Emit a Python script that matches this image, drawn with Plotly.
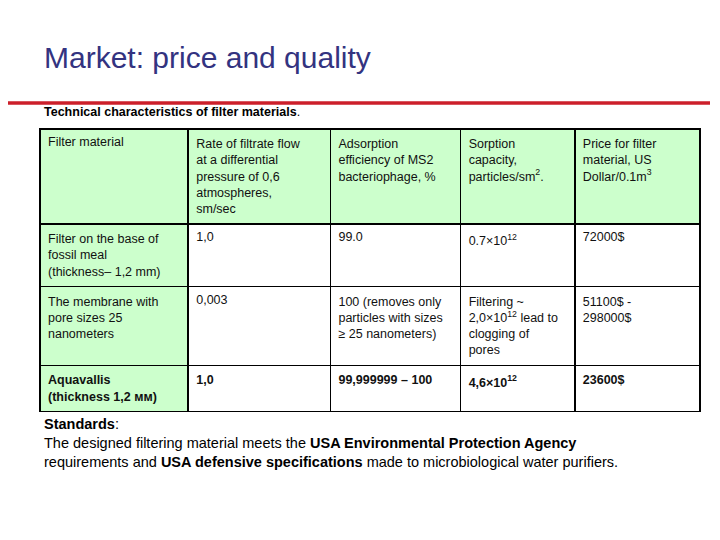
import plotly.graph_objects as go

W, H = 720, 540
DX, DY = -10, -8  # page offset compensation

headers = ["Filter material",
           "Rate of filtrate flow<br>at a differential<br>pressure of 0,6<br>atmospheres,<br>sm/sec",
           "Adsorption<br>efficiency of MS2<br>bacteriophage, %",
           "Sorption<br>capacity,<br>particles/sm<sup>2</sup>.",
           "Price for filter<br>material, US<br>Dollar/0.1m<sup>3</sup>"]

materials = ["Filter on the base of<br>fossil meal<br>(thickness– 1,2 mm)",
             "The membrane with<br>pore sizes 25<br>nanometers",
             "<b>Aquavallis<br>(thickness 1,2 мм)</b>"]
flow_rate = ["1,0", "0,003", "<b>1,0</b>"]
adsorption = ["99.0",
              "100 (removes only<br>particles with sizes<br>≥ 25 nanometers)",
              "<b>99,999999 – 100</b>"]
sorption = ["0.7×10<sup>12</sup>",
            "Filtering ~<br>2,0×10<sup>12</sup> lead to<br>clogging of<br>pores",
            "<b>4,6×10<sup>12</sup></b>"]
price = ["72000$", "51100$ -<br>298000$", "<b>23600$</b>"]

col_widths = [148, 142, 130, 114, 125]
green = "#ccffcc"


def px(x):
    return (x + DX) / W


def py(y):
    return 1 - (y + DY) / H


fig = go.Figure()
fig.add_trace(go.Table(
    domain=dict(x=[px(42), px(702)], y=[0, py(129)]),
    columnwidth=col_widths,
    header=dict(values=headers, fill_color=green, align="left",
                line=dict(color="black", width=1.5), height=18,
                font=dict(family="Liberation Sans, Arial", size=12.5, color="#111")),
    cells=dict(values=[materials, flow_rate, adsorption, sorption, price],
               fill_color=[[green] * 3, ["white"] * 3, ["white"] * 3, ["white"] * 3, ["white"] * 3],
               align="left", line=dict(color="black", width=1.5), height=18,
               font=dict(family="Liberation Sans, Arial", size=12.5, color="#111")),
))

fig.add_annotation(text="Market: price and quality", x=px(44), y=py(57), xref="paper", yref="paper",
                   xanchor="left", yanchor="middle", showarrow=False,
                   font=dict(family="Liberation Sans, Arial", size=30, color="#333380"))
fig.add_shape(type="line", xref="paper", yref="paper", x0=px(10), x1=px(712),
              y0=py(103), y1=py(103), line=dict(color="#cc1f2a", width=3.5))
fig.add_annotation(text="<b>Technical characteristics of filter materials</b>.", x=px(44), y=py(112),
                   xref="paper", yref="paper", xanchor="left", yanchor="middle", showarrow=False,
                   font=dict(family="Liberation Sans, Arial", size=12.5, color="black"))
fig.add_annotation(
    text="<b>Standards</b>:<br>The designed filtering material meets the <b>USA Environmental Protection Agency</b>"
         "<br>requirements and <b>USA defensive specifications</b> made to microbiological water purifiers.",
    x=px(44), y=py(414), xref="paper", yref="paper", xanchor="left", yanchor="top", align="left",
    showarrow=False, font=dict(family="Liberation Sans, Arial", size=14.5, color="black"))

fig.update_layout(width=W, height=H, margin=dict(l=0, r=0, t=0, b=0),
                  paper_bgcolor="white", plot_bgcolor="white")
fig.write_html("out.html")
